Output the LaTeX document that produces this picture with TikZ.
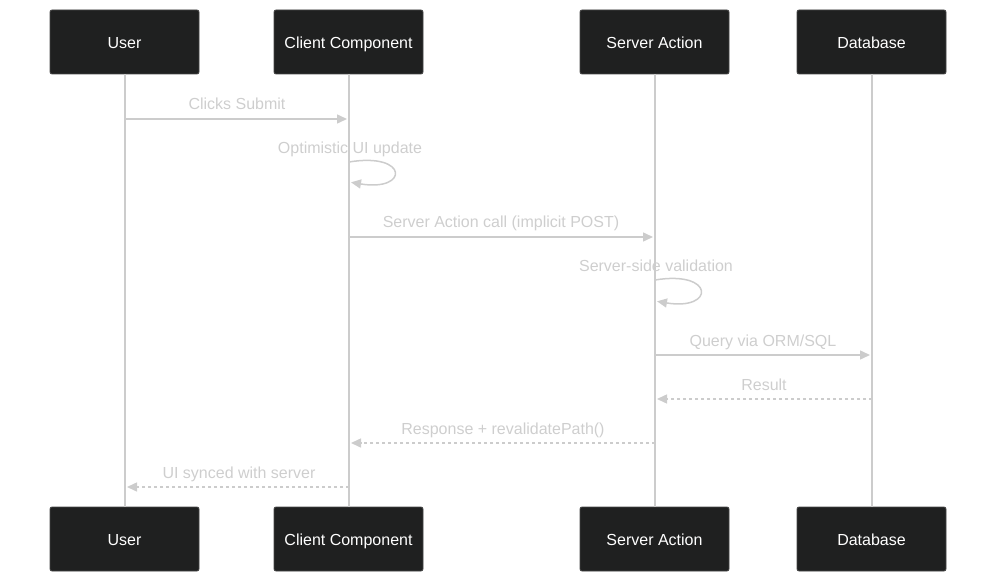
\documentclass[tikz,border=0pt]{standalone}
\usepackage{fontspec}
\setmainfont{Liberation Sans}
\usetikzlibrary{arrows.meta}
\definecolor{boxfill}{RGB}{31,32,32}
\definecolor{boxedge}{RGB}{70,70,70}
\definecolor{lline}{RGB}{204,204,204}
\definecolor{msgtxt}{RGB}{206,206,206}
\tikzset{
  actor/.style={draw=boxedge, line width=0.8pt, fill=boxfill, rounded corners=2pt,
    minimum width=149pt, minimum height=64pt, inner sep=0pt, text=white,
    text height=12.5pt, text depth=0pt,
    font=\fontsize{16}{19}\selectfont},
  lifeline/.style={draw=lline, line width=2pt},
  msg/.style={draw=lline, line width=1.5pt, -{Triangle[length=10pt,width=9pt]}, shorten >=2pt},
  reply/.style={msg, dash pattern=on 3pt off 3pt},
  mlabel/.style={text=msgtxt, anchor=base, inner sep=0pt, font=\fontsize{16}{19}\selectfont}
}
\begin{document}
\begin{tikzpicture}[x=1pt,y=-1pt]
\useasboundingbox (0,0) rectangle (997,583);
% actors
\node[actor] (uT) at (124.5,42) {User};
\node[actor] (cT) at (348.5,42) {Client Component};
\node[actor] (sT) at (654.5,42) {Server Action};
\node[actor] (dT) at (871.5,42) {Database};
\node[actor] (uB) at (124.5,539) {User};
\node[actor] (cB) at (348.5,539) {Client Component};
\node[actor] (sB) at (654.5,539) {Server Action};
\node[actor] (dB) at (871.5,539) {Database};
% lifelines
\draw[lifeline] (uT.south) -- (uB.north);
\draw[lifeline] (cT.south) -- (cB.north);
\draw[lifeline] (sT.south) -- (sB.north);
\draw[lifeline] (dT.south) -- (dB.north);
% message end points
\coordinate (m1a) at (125,119);  \coordinate (m1b) at (349,119);
\coordinate (l1a) at (349,162);  \coordinate (l1b) at (349,182);
\coordinate (m3a) at (349,237);  \coordinate (m3b) at (655,237);
\coordinate (l2a) at (655,280);  \coordinate (l2b) at (655,301);
\coordinate (m5a) at (655,355);  \coordinate (m5b) at (872,355);
\coordinate (m6a) at (872,399);  \coordinate (m6b) at (655,399);
\coordinate (m7a) at (655,443);  \coordinate (m7b) at (349,443);
\coordinate (m8a) at (349,487);  \coordinate (m8b) at (125,487);
% messages
\draw[msg] (m1a) -- (m1b);
\node[mlabel] (t1) at (237,110) {Clicks Submit};
\node[mlabel] (t2) at (350,154) {Optimistic UI update};
\draw[msg] (l1a) .. controls (409,152) and (409,192) .. (l1b);
\draw[msg] (m3a) -- (m3b);
\node[mlabel] (t3) at (501,228) {Server Action call (implicit POST)};
\node[mlabel] (t4) at (656,272) {Server-side validation};
\draw[msg] (l2a) .. controls (715,270) and (715,311) .. (l2b);
\draw[msg] (m5a) -- (m5b);
\node[mlabel] (t5) at (763,346) {Query via ORM/SQL};
\draw[reply] (m6a) -- (m6b);
\node[mlabel] (t6) at (764,390) {Result};
\draw[reply] (m7a) -- (m7b);
\node[mlabel] (t7) at (503,434) {Response + revalidatePath()};
\draw[reply] (m8a) -- (m8b);
\node[mlabel] (t8) at (239,478) {UI synced with server};
\end{tikzpicture}
\end{document}
